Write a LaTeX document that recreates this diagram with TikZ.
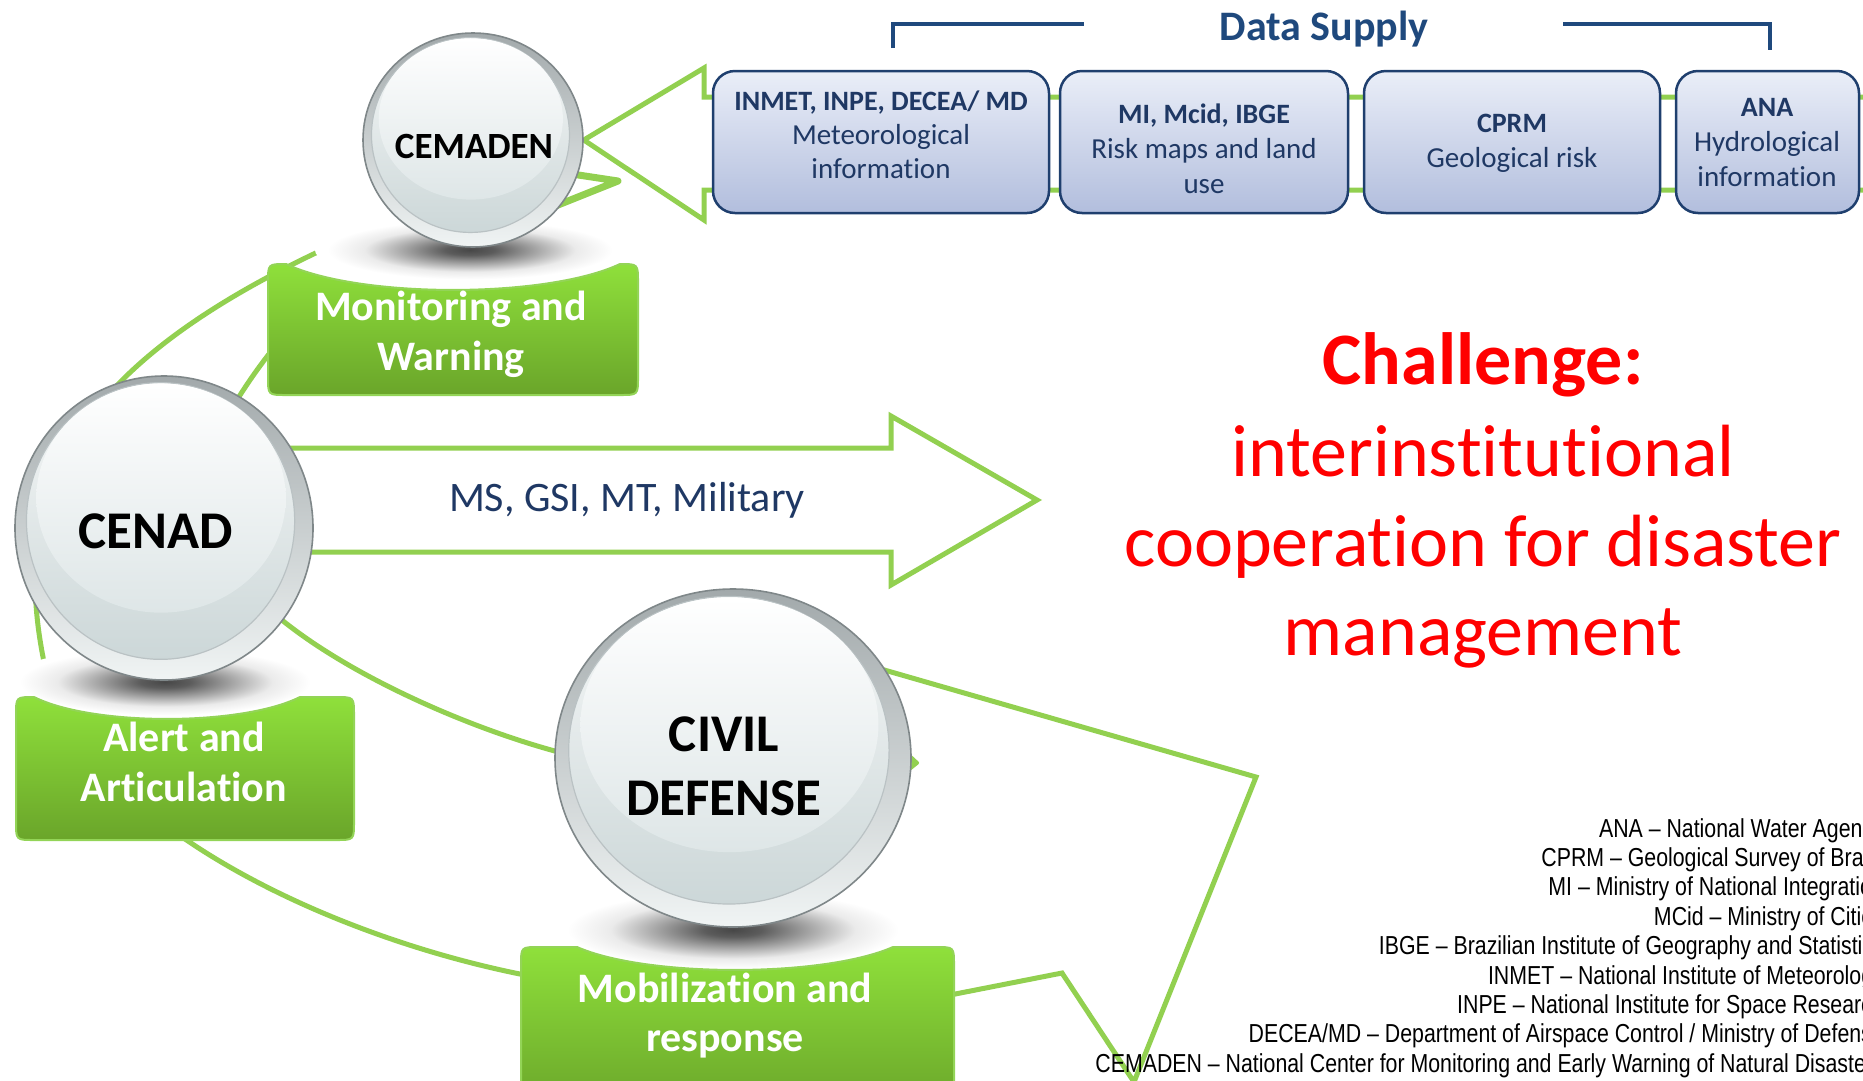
\documentclass[tikz,border=0pt]{standalone}
\usepackage{fontspec}
\setmainfont{Carlito}[Ligatures=NoCommon]
\newfontfamily\legendfont{Liberation Sans}[FakeStretch=0.82]
\usetikzlibrary{shapes.geometric}

\definecolor{linkgreen}{HTML}{92D050}
\definecolor{gboxtop}{HTML}{8FE03B}
\definecolor{gboxbot}{HTML}{6AA52A}
\definecolor{gboxrim}{HTML}{93D457}
\definecolor{navy}{HTML}{1F3864}
\definecolor{bracketblue}{HTML}{1F497D}
\definecolor{dboxrim}{HTML}{1F3F6E}
\definecolor{dboxtop}{HTML}{EAEEF8}
\definecolor{dboxbot}{HTML}{B2BEDD}
\definecolor{ballrim}{HTML}{7F8789}
\definecolor{ballouttop}{HTML}{A2A9AB}
\definecolor{balloutbot}{HTML}{F0F4F4}
\definecolor{disctop}{HTML}{F6F8F8}
\definecolor{discbot}{HTML}{CCD7D8}
\definecolor{discrim}{HTML}{BAC2C4}
\definecolor{hilbot}{HTML}{DEE6E7}
\definecolor{alertred}{HTML}{FF0000}

% soft shadow cast below each sphere (the path edge sits at 25bp)
\pgfdeclareradialshading{ballshadow}{\pgfpoint{0bp}{0bp}}{color(0bp)=(black!72); color(4bp)=(black!64); color(10bp)=(black!38); color(17bp)=(black!8); color(23bp)=(white); color(50bp)=(white)}

\pgfdeclarelayer{links}
\pgfdeclarelayer{shadows}
\pgfsetlayers{links,shadows,main}

\newcommand\fsz[1]{\fontsize{#1}{#1}\selectfont}

\tikzset{
  link/.style={draw=linkgreen, line width=5},
  ball/.style={ellipse, inner sep=0, draw=ballrim, line width=1.6,
    top color=ballouttop, bottom color=balloutbot},
  greenfill/.style={top color=gboxtop, bottom color=gboxbot, draw=gboxrim, line width=2},
  databox/.style={rectangle, rounded corners=22, inner sep=0, draw=dboxrim, line width=2.5,
    top color=dboxtop, bottom color=dboxbot},
  txt/.style={inner sep=0, anchor=base},
  boxlabel/.style={txt, text=white, font=\bfseries\fsz{42}},
  balllabel/.style={txt, text=black, font=\bfseries\fsz{53}},
  datahead/.style={txt, text=navy, font=\bfseries\fsz{28}},
  databody/.style={txt, text=navy, font=\fsz{29}},
  legend/.style={inner sep=0, anchor=base east, text=black, font=\legendfont\fsz{26}},
  bigred/.style={txt, text=alertred, font=\fsz{74}},
}

% glossy sphere: name, centre x, centre y, x radius, y radius
\newcommand\glossball[5]{%
  \node[ball, minimum width=2*#4, minimum height=2*#5] (#1) at (#2,#3) {};
  \shade[top color=disctop, bottom color=discbot, draw=discrim, line width=1.2]
    ({#2-0.023*#4},{#3-0.046*#5}) ellipse [x radius={0.90*#4}, y radius={0.91*#5}];
  \shade[top color=white, bottom color=hilbot]
    ({#2-0.02*#4},{#3-0.197*#5}) ellipse [x radius={0.837*#4}, y radius={0.754*#5}];
}

% green label box with a scooped top edge:
% name, x1, y1, x2, y2, scoop start, scoop end, scoop depth
\newcommand\greenbox[8]{%
  \path[greenfill] (#2,{#3+18}) -- (#2,{#5-18}) .. controls (#2,#5) .. ({#2+18},#5)
    -- ({#4-18},#5) .. controls (#4,#5) .. (#4,{#5-18})
    -- (#4,{#3+18}) .. controls (#4,#3) .. ({#4-18},#3)
    -- (#7,#3) .. controls ({#7-0.22*(#7-#6)},{#3+1.33*#8}) and ({#6+0.22*(#7-#6)},{#3+1.33*#8}) .. (#6,#3)
    -- ({#2+18},#3) .. controls (#2,#3) .. (#2,{#3+18}) -- cycle;
  \coordinate (#1) at ({(#2+#4)/2},{(#3+#5)/2});
}

\begin{document}
\begin{tikzpicture}[x=1pt,y=-1pt]
\useasboundingbox (0,0) rectangle (1863,1080);

% ---------- shadows under the spheres ----------
\begin{pgfonlayer}{shadows}
  \shade[shading=ballshadow] (470,250) ellipse [x radius=155, y radius=32];
  \shade[shading=ballshadow] (165,682) ellipse [x radius=158, y radius=36];
  \shade[shading=ballshadow] (733,930) ellipse [x radius=180, y radius=42];
\end{pgfonlayer}

% ---------- label boxes ----------
\greenbox{mw}{268}{264}{638}{395}{286}{620}{26}
\greenbox{aa}{16}{697}{354}{840}{34}{300}{22}
\greenbox{mr}{521}{947}{954}{1110}{577}{893}{23}

% ---------- spheres ----------
\glossball{cemaden}{473}{140}{110}{107}
\glossball{cenad}{164}{528}{149}{152}
\glossball{civil}{733}{758}{178}{169}

% ---------- data supply boxes ----------
\node[databox, minimum width=336, minimum height=142] (met) at (881,142) {};
\node[databox, minimum width=288, minimum height=142] (risk) at (1204,142) {};
\node[databox, minimum width=296, minimum height=142] (geo) at (1512,142) {};
\node[databox, minimum width=183, minimum height=142] (hyd) at (1767.5,142) {};

% ---------- connectors ----------
\coordinate (l1s) at (322,250);
\coordinate (l1e) at (44,662);
\coordinate (l2s) at (285,334);
\coordinate (l2e) at (222,425);
\coordinate (l3s) at (270,610);
\coordinate (l3e) at (570,755);
\coordinate (l4s) at (175,832);
\coordinate (l4e) at (530,976);
\coordinate (l5s) at (945,996);
\coordinate (l5a) at (1062,973);
\coordinate (l5b) at (1134,1082);
\coordinate (l5c) at (1256,777);
\coordinate (l5e) at (860,663);
\coordinate (cv) at (618,181);
\begin{pgfonlayer}{links}
  \draw[link] (l1s) .. controls (69,369) and (10,495) .. (l1e);
  \draw[link] (l2s) .. controls (262,362) and (245,385) .. (l2e);
  \draw[link] (l3s) .. controls (340,672) and (470,730) .. (l3e);
  \draw[link] (l4s) .. controls (270,900) and (405,952) .. (l4e);
  \draw[link] (l5s) -- (l5a) -- (l5b) -- (l5c) -- (l5e);
  \fill[linkgreen, rounded corners=2] (906,750) -- (920,763) -- (910,771) -- cycle;
  \draw[linkgreen, line width=7, line cap=round, line join=round]
    (552,171) -- (cv) -- (548,209);
  % arrow from the data providers to CEMADEN
  \draw[link] (cemaden.east) -- (704,68) -- (704,97) -- (1900,97) -- (1900,190)
    -- (704,190) -- (704,220) -- cycle;
  % arrow out of CENAD
  \draw[link] (200,448) -- (891,448) -- (891,416) -- (1037,500) -- (891,585)
    -- (891,552) -- (200,552);
\end{pgfonlayer}

% ---------- data supply bracket ----------
\node[txt, text=bracketblue, font=\bfseries\fsz{42}] (ds) at (1324,40) {Data Supply};
\draw[bracketblue, line width=4] (893,48) -- (893,24) -- (1084,24);
\draw[bracketblue, line width=4] (1563,24) -- (1770,24) -- (1770,50);

% ---------- texts ----------
\node[txt, text=black, font=\bfseries\fsz{37}] (cemaden-t) at (474,158) {CEMADEN};
\node[balllabel] (cenad-t) at (156,548) {CENAD};
\node[balllabel] (civil-t1) at (724,751) {CIVIL};
\node[balllabel] (civil-t2) at (724,815) {DEFENSE};

\node[boxlabel] (mw-t1) at (451,320) {Monitoring and};
\node[boxlabel] (mw-t2) at (451,370) {Warning};
\node[boxlabel] (aa-t1) at (184,751) {Alert and};
\node[boxlabel] (aa-t2) at (184,801) {Articulation};
\node[boxlabel] (mr-t1) at (725,1002) {Mobilization and};
\node[boxlabel] (mr-t2) at (725,1051) {response};

\node[txt, text=navy, font=\fsz{42}] (ms) at (627,511) {MS, GSI, MT, Military};

\node[datahead] (met-t1) at (881,110) {INMET, INPE, DECEA/ MD};
\node[databody] (met-t2) at (881,144) {Meteorological};
\node[databody] (met-t3) at (881,178) {information};
\node[datahead] (risk-t1) at (1204,123) {MI, Mcid, IBGE};
\node[databody] (risk-t2) at (1204,158) {Risk maps and land};
\node[databody] (risk-t3) at (1204,193) {use};
\node[datahead] (geo-t1) at (1512,132) {CPRM};
\node[databody] (geo-t2) at (1512,167) {Geological risk};
\node[datahead] (hyd-t1) at (1767,116) {ANA};
\node[databody] (hyd-t2) at (1767,151) {Hydrological};
\node[databody] (hyd-t3) at (1767,186) {information};

\node[bigred, font=\bfseries\fsz{74}] (ch1) at (1483,384) {Challenge:};
\node[bigred] (ch2) at (1483,476) {interinstitutional};
\node[bigred] (ch3) at (1483,566) {cooperation for disaster};
\node[bigred] (ch4) at (1483,655) {management};

% ---------- acronym legend (runs past the right edge) ----------
\node[legend] (lg1) at (1884,837) {ANA – National Water Agency};
\node[legend] (lg2) at (1884,866.4) {CPRM – Geological Survey of Brazil};
\node[legend] (lg3) at (1884,895.8) {MI – Ministry of National Integration};
\node[legend] (lg4) at (1884,925.2) {MCid – Ministry of Cities};
\node[legend] (lg5) at (1884,954.6) {IBGE – Brazilian Institute of Geography and Statistics};
\node[legend] (lg6) at (1884,984) {INMET – National Institute of Meteorology};
\node[legend] (lg7) at (1884,1013.4) {INPE – National Institute for Space Research};
\node[legend] (lg8) at (1884,1042.8) {DECEA/MD – Department of Airspace Control / Ministry of Defense};
\node[legend] (lg9) at (1884,1072.2) {CEMADEN – National Center for Monitoring and Early Warning of Natural Disasters};
\end{tikzpicture}
\end{document}
